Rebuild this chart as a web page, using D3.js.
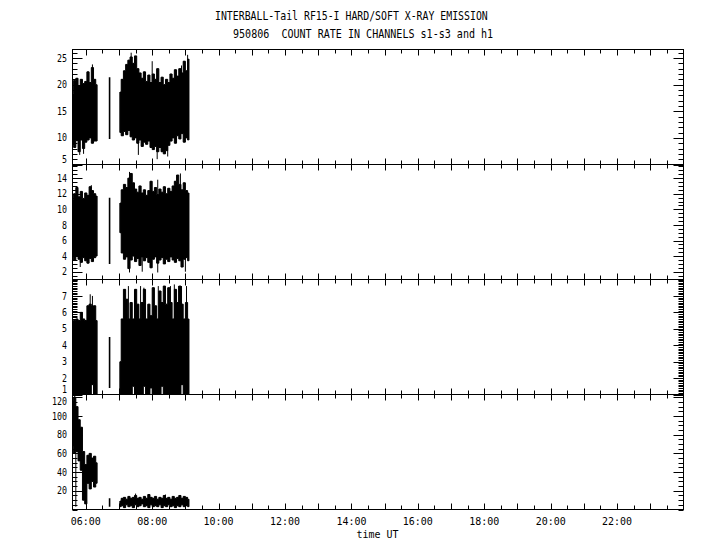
<!DOCTYPE html>
<html><head><meta charset="utf-8">
<script src="https://cdn.jsdelivr.net/npm/d3@7/dist/d3.min.js"></script>
<style>body{margin:0;background:#fff}svg{display:block}text{white-space:pre}</style>
</head><body>
<svg id="c" width="720" height="550"></svg>
<script>
// ---------- data ----------
const titleLine1 = "INTERBALL-Tail RF15-I HARD/SOFT X-RAY EMISSION";
const titleLine2 = "950806  COUNT RATE IN CHANNELS s1-s3 and h1";
const xAxisTitle = "time UT";
const xTickLabels = ["06:00","08:00","10:00","12:00","14:00","16:00","18:00","20:00","22:00"];
const timeRange = ["05:36","24:00"];

const timesA = ["05:36","05:40","05:44","05:48","05:52","05:56","06:00","06:04","06:08","06:12","06:16","06:20"];
const timesB = ["07:02","07:06","07:10","07:14","07:18","07:22","07:26","07:30","07:34","07:38","07:42","07:46",
                "07:50","07:54","07:58","08:02","08:06","08:10","08:14","08:18","08:22","08:26","08:30","08:34",
                "08:38","08:42","08:46","08:50","08:54","08:58","09:02","09:06"];
const loneTime = "06:43";

// channel s1 (panel 1)
const s1Ticks = [5,10,15,20,25];
const s1HiA = [18.3,20.8,21.2,19.8,21.0,20.2,20.6,22.4,20.4,23.2,21.0,20.0];
const s1LoA = [8.6,8.2,9.5,7.4,9.6,8.0,9.2,9.6,10.0,9.0,9.4,9.4];
const s1HiB = [18.6,21.0,22.6,23.8,24.6,25.2,24.0,25.4,23.0,22.2,21.2,22.4,20.6,21.8,20.4,22.0,
               21.0,23.0,20.4,21.4,20.0,21.0,20.4,22.0,21.2,22.8,21.6,23.0,22.2,24.4,22.6,24.8];
const s1LoB = [11.0,10.4,11.2,10.6,11.4,10.2,9.6,10.0,9.0,9.6,8.4,9.2,8.8,9.4,8.2,7.8,
               8.4,7.4,8.2,7.4,7.0,7.6,8.6,9.4,10.0,9.0,10.4,9.8,10.8,9.2,10.0,9.6];
const s1Lone = [9.8,21.4];
const s1SpikeT = ["05:49","05:56","06:12","07:22","07:35","08:00","08:09","08:28","08:53","09:04"];
const s1SpikeLo = [6.8,7.0,14,14,6.8,14,6.0,6.5,14,14];
const s1SpikeHi = [14,14,23.8,26.0,14,24.4,14,14,23.6,25.6];

// channel s2 (panel 2)
const s2Ticks = [2,4,6,8,10,12,14];
const s2HiA = [11.2,12.0,12.8,11.6,12.3,11.4,12.1,11.8,12.9,12.4,12.0,11.7];
const s2LoA = [3.9,3.5,4.0,3.6,3.2,3.8,3.4,3.1,3.7,3.3,3.8,4.0];
const s2HiB = [10.8,12.5,13.2,12.8,14.0,14.6,13.4,12.6,12.2,13.0,12.1,12.5,11.8,12.4,13.6,12.3,
               12.8,11.9,12.6,12.2,12.9,12.0,12.7,12.3,13.0,13.6,14.4,13.2,12.5,13.4,12.4,12.1];
const s2LoB = [7.0,4.4,3.6,3.9,2.4,3.5,4.0,3.3,3.7,2.8,3.9,3.4,3.8,3.2,2.5,3.6,
               3.9,3.1,3.5,3.8,3.0,3.6,3.3,3.9,3.5,3.2,3.7,3.4,2.6,3.6,3.8,3.4];
const s2Lone = [3.0,11.5];
const s2SpikeT = ["05:50","06:10","07:19","07:42","08:10","08:51","09:00"];
const s2SpikeLo = [2.6,8,1.9,2.0,1.9,8,2.0];
const s2SpikeHi = [8,13.1,14.8,8,13.8,14.6,8];

// channel s3 (panel 3)
const s3Ticks = [1,2,3,4,5,6,7];
const s3HiA = [5.5,5.5,5.6,5.5,6.0,5.6,5.5,6.4,6.5,6.4,6.4,5.5];
const s3LoA = [1,1,1,1,1,1,1,1,1,1.6,1,1];
const s3HiB = [3.0,5.6,7.4,6.8,5.6,6.6,5.6,7.4,6.5,5.6,6.6,7.4,5.6,6.5,5.8,7.5,
               6.4,5.6,7.3,6.6,7.6,6.5,7.5,6.6,5.6,7.4,6.6,7.6,6.5,5.6,6.6,5.6];
const s3LoB = [1,1,1,1,1,1,1.5,1,1,1,1,1.5,1,1,1.4,1,
               1,1,1,1.5,1,1,1,1,1,1,1,1,1.6,1,1,1];
const s3Lone = [1.4,4.5];
const s3SpikeT = ["06:08","06:12","07:17","07:39","07:45","08:11","08:33","08:40","08:48","08:53","09:02"];
const s3SpikeLo = [3,3,3,3,3,3,3,3,3,3,3];
const s3SpikeHi = [7.1,7.0,7.6,7.6,7.5,7.6,7.6,7.7,7.6,7.6,7.6];

// channel h1 (panel 4)
const h1Ticks = [20,40,60,80,100,120];
const h1HiA = [116,120,110,96,88,62,48,58,60,55,57,50];
const h1LoA = [68,60,62,52,42,10,6,28,22,30,24,28];
const h1HiB = [9,12,13,11,14,12,13,15,12,13,11,14,12,16,13,12,
               14,11,13,12,15,12,13,11,14,12,13,15,12,14,13,11];
const h1LoB = [3,4,2,5,3,4,2,5,3,4,6,3,4,2,5,3,
               4,3,5,2,4,3,5,3,4,2,4,3,5,3,4,3];
const h1Lone = [3,12];
const h1SpikeT = ["05:40","05:42","07:30","08:24"];
const h1SpikeLo = [80,3,5,5];
const h1SpikeHi = [122,60,17,16];

// ---------- drawing ----------
const panels = [
  {domain:[5,26.6], ticks:s1Ticks, minor:1,   hiA:s1HiA, loA:s1LoA, hiB:s1HiB, loB:s1LoB, lone:s1Lone, sT:s1SpikeT, sLo:s1SpikeLo, sHi:s1SpikeHi},
  {domain:[1,15.75],ticks:s2Ticks, minor:0.5, hiA:s2HiA, loA:s2LoA, hiB:s2HiB, loB:s2LoB, lone:s2Lone, sT:s2SpikeT, sLo:s2SpikeLo, sHi:s2SpikeHi},
  {domain:[1,8],    ticks:s3Ticks, minor:0.1, hiA:s3HiA, loA:s3LoA, hiB:s3HiB, loB:s3LoB, lone:s3Lone, sT:s3SpikeT, sLo:s3SpikeLo, sHi:s3SpikeHi},
  {domain:[0,123],  ticks:h1Ticks, minor:5,   hiA:h1HiA, loA:h1LoA, hiB:h1HiB, loB:h1LoB, lone:h1Lone, sT:h1SpikeT, sLo:h1SpikeLo, sHi:h1SpikeHi}
];

const svg = d3.select("#c");
const FONT = "'DejaVu Sans Mono', 'Liberation Mono', monospace";
const L = 72.5, R = 683.5, H = 115;
const tops = [49.5, 164.5, 279.5, 394.5];
const parseT = s => { const [h,m] = s.split(":").map(Number); return h + m/60; };
const x = d3.scaleLinear().domain(timeRange.map(parseT)).range([L, R]);

function txt(g, s, px, py, size, cw, anchor) {
  return g.append("text").attr("x", px).attr("y", py)
    .attr("font-family", FONT).attr("font-size", size)
    .attr("text-anchor", anchor || "start")
    .attr("xml:space", "preserve")
    .attr("textLength", s.length * cw).attr("lengthAdjust", "spacingAndGlyphs")
    .attr("fill", "#000").text(s);
}

// titles
txt(svg, titleLine1, 215, 19.5, 12.5, 5.93);
txt(svg, titleLine2, 233, 38, 12.5, 6.05);

const defs = svg.append("defs");
panels.forEach((p, k) => {
  const top = tops[k], bot = top + H;
  const y = d3.scaleLinear().domain(p.domain).range([bot, top]);
  defs.append("clipPath").attr("id", "clip" + k)
    .append("rect").attr("x", L).attr("y", top).attr("width", R - L).attr("height", H);
  const g = svg.append("g").attr("clip-path", `url(#clip${k})`);

  const blocks = [
    {t: timesA, hi: p.hiA, lo: p.loA},
    {t: timesB, hi: p.hiB, lo: p.loB}
  ];
  const area = d3.area().x(d => x(d.t)).y0(d => y(d.lo)).y1(d => y(d.hi)).curve(d3.curveStep);
  blocks.forEach(b => {
    const pts = b.t.map((s, i) => ({t: parseT(s), hi: b.hi[i], lo: b.lo[i]}));
    g.append("path").datum(pts).attr("d", area).attr("fill", "#000")
      .attr("stroke", "#000").attr("stroke-width", 1);
    g.selectAll(null).data(pts).enter().append("line")
      .attr("x1", d => x(d.t)).attr("x2", d => x(d.t))
      .attr("y1", d => y(d.lo)).attr("y2", d => y(d.hi))
      .attr("stroke", "#000").attr("stroke-width", 1.2);
  });
  // lone sample at 06:43
  g.append("line").attr("x1", x(parseT(loneTime))).attr("x2", x(parseT(loneTime)))
    .attr("y1", y(p.lone[0])).attr("y2", y(p.lone[1])).attr("stroke", "#000").attr("stroke-width", 1.6);
  // individual spikes
  p.sT.forEach((s, i) => {
    g.append("line").attr("x1", x(parseT(s))).attr("x2", x(parseT(s)))
      .attr("y1", y(p.sLo[i])).attr("y2", y(p.sHi[i])).attr("stroke", "#000").attr("stroke-width", 1);
  });

  // frame
  svg.append("rect").attr("x", L).attr("y", top).attr("width", R - L).attr("height", H)
    .attr("fill", "none").attr("stroke", "#000").attr("stroke-width", 1);

  // x ticks (hours long, half hours short), inward at top and bottom
  const ax = svg.append("g").attr("stroke", "#000").attr("stroke-width", 1);
  for (let hv = 6; hv < 24; hv += 0.5) {
    const xx = Math.round(x(hv)) + 0.5;
    const len = (hv % 1 === 0) ? 6 : 4;
    ax.append("line").attr("x1", xx).attr("x2", xx).attr("y1", top).attr("y2", top + len);
    ax.append("line").attr("x1", xx).attr("x2", xx).attr("y1", bot).attr("y2", bot - len);
  }
  // y ticks: minor and major, left and right, inward
  const [d0, d1] = p.domain;
  const nMin = Math.ceil(d0 / p.minor - 1e-6), nMax = Math.floor(d1 / p.minor + 1e-6);
  for (let n = nMin; n <= nMax; n++) {
    const v = n * p.minor;
    const yy = Math.round(y(v)) + 0.5;
    const major = p.ticks.some(t => Math.abs(t - v) < 1e-6);
    const len = major ? 10 : 5;
    ax.append("line").attr("x1", L).attr("x2", L + len).attr("y1", yy).attr("y2", yy);
    ax.append("line").attr("x1", R).attr("x2", R - len).attr("y1", yy).attr("y2", yy);
  }
  // y labels (kept inside panel band)
  p.ticks.forEach(t => {
    const yy = Math.max(top + 7, Math.min(bot - 5, y(t)));
    txt(svg, String(t), 67, yy + 3.6, 10, 5.0, "end");
  });
});

// x tick labels and title
const bottom = tops[3] + H;
xTickLabels.forEach(s => {
  txt(svg, s, x(parseT(s)), bottom + 15, 10.5, 6.0, "middle");
});
txt(svg, xAxisTitle, 377.5, bottom + 28.5, 10.5, 6.0, "middle");
</script>
</body></html>
